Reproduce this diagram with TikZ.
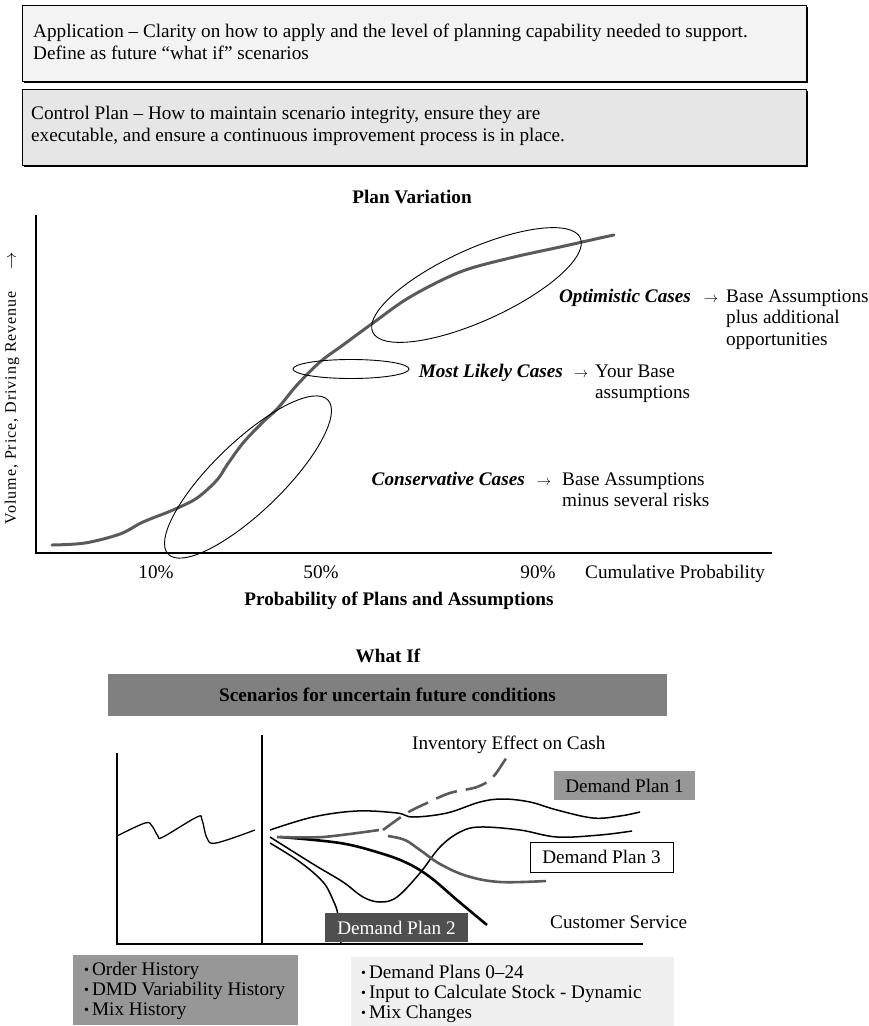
\documentclass[tikz,border=0pt]{standalone}
\usepackage{fontspec}
\setmainfont{Liberation Serif}
\newfontfamily\axislabelfont[LetterSpace=6]{Liberation Serif}
\usetikzlibrary{shadows}

\definecolor{panelA}{HTML}{F3F3F3}
\definecolor{panelB}{HTML}{E6E6E6}
\definecolor{trend}{HTML}{5A5A5A}
\definecolor{bannergray}{HTML}{808080}
\definecolor{plangray}{HTML}{979797}
\definecolor{plandark}{HTML}{4F4F4F}
\definecolor{notepale}{HTML}{F0F0F0}

\newcommand{\smallbullet}{{\fontsize{14}{14}\selectfont\raisebox{0.6pt}{•}}\hspace{3pt}}

\begin{document}
\begin{tikzpicture}[x=1pt,y=-1pt,
  every node/.style={inner sep=0pt, font=\fontsize{19.2}{22}\selectfont},
  panel/.style={draw=black, line width=1.3pt, anchor=north west,
    drop shadow={shadow xshift=1.6pt, shadow yshift=-1.6pt, fill=black, opacity=1}},
  lbl/.style={anchor=base west},
  boldlbl/.style={anchor=base, font=\fontsize{19.2}{22}\selectfont\bfseries},
  casename/.style={anchor=base east, font=\fontsize{19.2}{22}\selectfont\bfseries\itshape},
  casearrow/.style={anchor=base, font=\fontsize{15}{15}\selectfont},
  casenote/.style={anchor=base west, align=left, font=\fontsize{19.2}{21.5}\selectfont},
  listnote/.style={anchor=base west, align=left, font=\fontsize{19.2}{20}\selectfont},
  axisline/.style={line width=1.4pt},
  trendline/.style={trend, line width=3pt, line cap=round},
  band/.style={line width=0.9pt},
  thinplan/.style={line width=1.5pt},
  thickplan/.style={line width=2.6pt},
  grayplan/.style={trend, line width=2.6pt},
  dashplan/.style={trend, line width=2.6pt, dash pattern=on 22pt off 9pt},
]
\useasboundingbox (0,0) rectangle (869,1026);

% ---- explanatory panels (multi-line nodes are placed by their last baseline) ----
\node[panel, fill=panelA, minimum width=784pt, minimum height=76pt] (application) at (21.5,5) {};
\node[lbl, align=left] (applicationtext) at (33,59)
  {Application -- Clarity on how to apply and the level of planning capability needed to support.\\Define as future ``what if'' scenarios};
\node[panel, fill=panelB, minimum width=784pt, minimum height=76pt] (control) at (21.5,89) {};
\node[lbl, align=left] (controltext) at (31,141)
  {Control Plan -- How to maintain scenario integrity, ensure they are\\executable, and ensure a continuous improvement process is in place.};

% ---- plan variation chart ----
\node[boldlbl] (plantitle) at (412,203) {Plan Variation};
\coordinate (ytop) at (36,215);
\coordinate (origin) at (36,553);
\coordinate (xend) at (772,553);
\draw[axisline] (ytop) -- (origin) -- (xend);
\node[rotate=90, anchor=base, font=\axislabelfont\fontsize{16}{16}\selectfont] (ylabel) at (16,388)
  {Volume, Price, Driving Revenue\hspace{22pt}$\rightarrow$};

\draw[trendline] plot[smooth, tension=0.55] coordinates {(52,545) (85,543) (120,534) (143,522) (173,510) (197,498) (217,480) (227,465) (243,443) (263,422) (278,408) (297,385) (320,362) (343,345) (373,323) (410,297) (460,272) (510,258) (560,247) (600,238) (614,235)};

\draw[band, rotate around={24.4:(476.5,285)}] (476.5,285) ellipse [x radius=114, y radius=36];
\draw[band] (351,369) ellipse [x radius=58, y radius=9.5];
\draw[band, rotate around={44:(248,477)}] (248,477) ellipse [x radius=111, y radius=35];

\node[casename] (optimistic) at (691,302) {Optimistic Cases};
\node[casearrow] (optarrow) at (711,302) {$\rightarrow$};
\node[casenote] (optnote) at (726,345) {Base Assumptions\\plus additional\\opportunities};

\node[casename] (likely) at (563,377) {Most Likely Cases};
\node[casearrow] (likelyarrow) at (581,377) {$\rightarrow$};
\node[casenote] (likelynote) at (595,398.5) {Your Base\\assumptions};

\node[casename] (conservative) at (525,485) {Conservative Cases};
\node[casearrow] (consarrow) at (544,485) {$\rightarrow$};
\node[casenote] (consnote) at (562,506.5) {Base Assumptions\\minus several risks};

\node[anchor=base] (p10) at (156,578) {10\%};
\node[anchor=base] (p50) at (321,578) {50\%};
\node[anchor=base] (p90) at (538,578) {90\%};
\node[lbl] (cumulative) at (585,578) {Cumulative Probability};
\node[boldlbl] (probtitle) at (399,605) {Probability of Plans and Assumptions};

% ---- what-if chart ----
\node[boldlbl] (whatif) at (388,662) {What If};
\node[fill=bannergray, minimum width=559pt, minimum height=42pt, font=\fontsize{19.2}{22}\selectfont\bfseries] (banner) at (387.5,695)
  {Scenarios for uncertain future conditions};

\coordinate (histtop) at (117,753);
\coordinate (histbase) at (117,944);
\coordinate (nowtop) at (262,735);
\coordinate (nowbase) at (262,944);
\coordinate (futend) at (643,944);
\draw[line width=1.2pt] (histtop) -- (histbase) -- (futend);
\draw[line width=1.2pt] (nowtop) -- (nowbase);

% demand history
\draw[line width=1.3pt] plot[smooth, tension=0.6] coordinates {(117,836) (145,823) (152,826) (158,836) (163,837) (197,817) (202,820) (207,838) (216,843) (255,830)};

% future scenarios
\draw[thinplan] plot[smooth, tension=0.6] coordinates {(270,830) (313,817) (357,811) (397,813) (413,817) (447,813) (480,802) (503,799) (530,802) (557,810) (593,818) (620,816) (640,812)};
\draw[thinplan] plot[smooth, tension=0.6] coordinates {(270,837) (313,864) (343,882) (363,897) (380,902) (397,897) (420,873) (440,847) (460,832) (480,827) (520,830) (557,837) (600,835) (632,831)};
\draw[thinplan] plot[smooth, tension=0.6] coordinates {(270,843) (300,862) (323,882) (333,900) (338,915) (341,944)};
\draw[thickplan] plot[smooth, tension=0.6] coordinates {(280,837) (340,843) (380,853) (407,863) (430,877) (457,900) (487,925)};
\draw[grayplan] plot[smooth] coordinates {(277,837) (323,837) (379,830)};
\draw[grayplan] plot[smooth, tension=0.6] coordinates {(388,836) (405,840) (420,850) (440,864) (467,876) (500,882) (546,881)};
\draw[dashplan] plot[smooth, tension=0.6] coordinates {(383,830) (407,813) (427,803) (450,793) (477,787) (492,778) (503,763) (510,752)};

\node[fill=plangray, minimum width=141pt, minimum height=29pt] (plan1) at (624.5,785.5) {Demand Plan 1};
\node[fill=white, draw=black, line width=1pt, minimum width=143pt, minimum height=30pt] (plan3) at (601.5,857) {Demand Plan 3};
\node[fill=plandark, text=white, minimum width=143pt, minimum height=29pt] (plan2) at (396.5,927.5) {Demand Plan 2};

\node[lbl] (cashnote) at (412,749) {Inventory Effect on Cash};
\node[lbl] (service) at (550,928) {Customer Service};

% ---- input lists ----
\node[fill=plangray, minimum width=225pt, minimum height=70pt, anchor=north west] (history) at (73,955) {};
\node[listnote] (historyitems) at (84,1015)
  {\smallbullet Order History\\\smallbullet DMD Variability History\\\smallbullet Mix History};
\node[fill=notepale, minimum width=323pt, minimum height=69pt, anchor=north west] (outlook) at (351,957) {};
\node[listnote] (outlookitems) at (361,1018)
  {\smallbullet Demand Plans 0--24\\\smallbullet Input to Calculate Stock - Dynamic\\\smallbullet Mix Changes};
\end{tikzpicture}
\end{document}
